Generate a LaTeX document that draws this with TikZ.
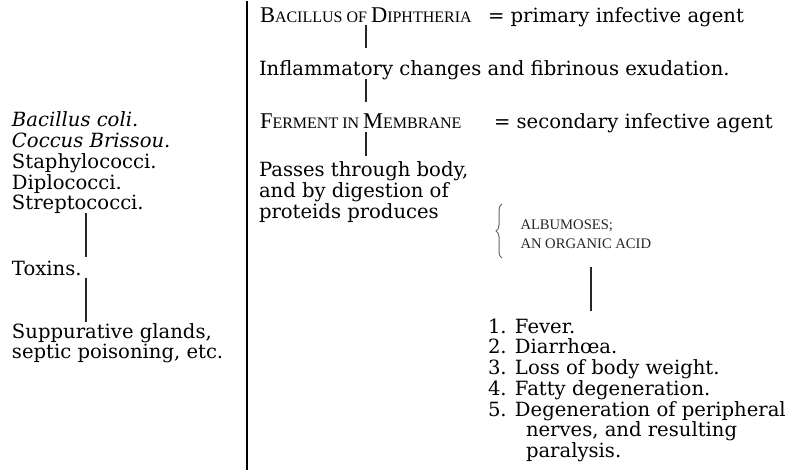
\documentclass[tikz,border=0pt]{standalone}
\usepackage{fontspec}
\newfontfamily\dv{DejaVu Serif}
\newfontfamily\lib{Liberation Serif}
\usetikzlibrary{decorations.pathreplacing}
\newcommand\tstrut{\rule{0pt}{16pt}}
\newcommand\bstrut{\rule[-6pt]{0pt}{6pt}}
\newcommand\smallcaps[1]{{\fontsize{16}{20}\selectfont #1}}
\tikzset{
  txt/.style={inner sep=0pt, outer sep=0pt, anchor=north west, align=left,
    font=\dv\fontsize{19.6}{20.75}\selectfont},
  sctxt/.style={inner sep=0pt, outer sep=0pt, anchor=north west,
    font=\lib\fontsize{22.5}{20.75}\selectfont},
  smallsc/.style={inner sep=0pt, outer sep=0pt, anchor=north west, align=left,
    text=black!85, font=\lib\fontsize{14.6}{19}\selectfont},
  conn/.style={line width=1.2pt, draw=black!85},
  divider/.style={line width=1.8pt, draw=black},
  bracestyle/.style={draw=black!60, line width=1pt,
    decorate, decoration={brace, amplitude=6pt}},
}
\begin{document}
\begin{tikzpicture}[x=1pt,y=-1pt]
\useasboundingbox (0,0) rectangle (789,470);
\coordinate (divtop) at (247,1);
\coordinate (divbot) at (247,470);
\draw[divider] (divtop) -- (divbot);
\coordinate (lx) at (86,0);
\coordinate (rx) at (366,0);
\coordinate (ax) at (591,0);
% left column
\node[txt] (bact) at (12,111) {\tstrut\textit{Bacillus coli.}\\\textit{Coccus Brissou.}\\Staphylococci.\\Diplococci.\\Streptococci.\bstrut};
\node[txt] (tox) at (12,259) {\tstrut Toxins.\bstrut};
\node[txt] (supp) at (12,322) {\tstrut Suppurative glands,\\septic poisoning, etc.\bstrut};
\draw[conn, shorten <=-3pt, shorten >=2pt] (bact.south -| lx) -- (tox.north -| lx);
\draw[conn, shorten <=-3pt] (tox.south -| lx) -- (supp.north -| lx);
% right column
\node[sctxt] (bd) at (260,6.7) {\tstrut B\smallcaps{ACILLUS OF }D\smallcaps{IPHTHERIA}\bstrut};
\node[txt] (bdeq) at (488,6.7) {\tstrut = primary infective agent\bstrut};
\node[txt] (infl) at (259,59.5) {\tstrut Inflammatory changes and fibrinous exudation.\bstrut};
\node[sctxt] (ferm) at (260,112.5) {\tstrut F\smallcaps{ERMENT IN }M\smallcaps{EMBRANE}\bstrut};
\node[txt] (fermeq) at (494,112.5) {\tstrut = secondary infective agent\bstrut};
\node[txt] (pass) at (259,161) {\tstrut Passes through body,\\and by digestion of\\proteids produces\bstrut};
\node[smallsc] (acids) at (520.5,213.3) {\tstrut ALBUMOSES;\\AN ORGANIC ACID\bstrut};
\coordinate (brbot) at (502,258);
\coordinate (brtop) at (502,204);
\draw[bracestyle] (brbot) -- (brtop);
\node[txt] (list) at (488,317) {\tstrut 1. Fever.\\2. Diarrh\oe a.\\3. Loss of body weight.\\4. Fatty degeneration.\\5. Degeneration of peripheral\\\hspace*{38pt}nerves, and resulting\\\hspace*{38pt}paralysis.\bstrut};
\draw[conn, shorten <=-3.7pt, shorten >=11.5pt] (bd.south -| rx) -- (infl.north -| rx);
\draw[conn, shorten <=-2.5pt, shorten >=10.5pt] (infl.south -| rx) -- (ferm.north -| rx);
\draw[conn, shorten <=-2.5pt, shorten >=5pt] (ferm.south -| rx) -- (pass.north -| rx);
\draw[conn, shorten <=12.7pt, shorten >=6pt] (acids.south -| ax) -- (list.north -| ax);
\end{tikzpicture}
\end{document}
